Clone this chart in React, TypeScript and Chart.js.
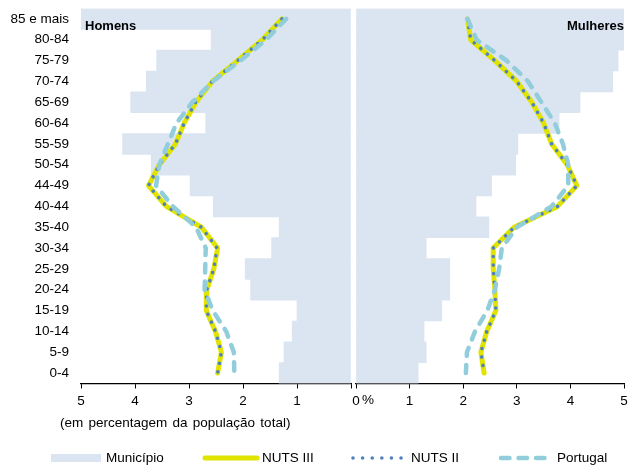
import React, { useEffect, useRef } from "react";
import { Chart, registerables } from "chart.js";

Chart.register(...registerables);

// Categories (top to bottom as drawn)
const ageGroups = [
  "85 e mais", "80-84", "75-79", "70-74", "65-69", "60-64", "55-59", "50-54", "44-49",
  "40-44", "35-40", "30-34", "25-29", "20-24", "15-19", "10-14", "5-9", "0-4",
];

// Homens (% of total population)
const menMunicipio = [5.5, 2.59, 3.6, 3.79, 4.08, 2.69, 4.23, 3.7, 2.98, 2.55, 1.33, 1.47, 1.96, 1.86, 1.0, 1.09, 1.24, 1.33];
const menNuts3 = [1.28, 1.64, 2.1, 2.57, 2.87, 3.09, 3.25, 3.55, 3.75, 3.42, 2.77, 2.47, 2.54, 2.67, 2.68, 2.51, 2.4, 2.47];
const menNuts2 = [1.28, 1.64, 2.1, 2.57, 2.88, 3.09, 3.25, 3.55, 3.75, 3.42, 2.77, 2.48, 2.54, 2.67, 2.68, 2.51, 2.4, 2.47];
const menPortugal = [1.2, 1.57, 2.05, 2.56, 2.94, 3.23, 3.39, 3.55, 3.61, 3.3, 2.87, 2.69, 2.7, 2.71, 2.56, 2.31, 2.17, 2.16];

// Mulheres (% of total population)
const womenMunicipio = [6.5, 5.2, 4.89, 4.79, 4.18, 3.79, 3.02, 2.98, 2.53, 2.24, 2.48, 1.31, 1.75, 1.75, 1.6, 1.27, 1.31, 1.16];
const womenNuts3 = [2.08, 2.14, 2.59, 3.0, 3.28, 3.5, 3.65, 3.94, 4.12, 3.76, 2.95, 2.56, 2.56, 2.59, 2.61, 2.44, 2.33, 2.39];
const womenNuts2 = [2.08, 2.14, 2.59, 3.0, 3.28, 3.5, 3.65, 3.94, 4.12, 3.76, 2.95, 2.56, 2.56, 2.59, 2.61, 2.44, 2.33, 2.39];
const womenPortugal = [2.08, 2.25, 2.81, 3.21, 3.46, 3.71, 3.86, 3.96, 3.96, 3.65, 3.0, 2.72, 2.67, 2.59, 2.45, 2.22, 2.07, 2.05];

const xTicks = [0, 1, 2, 3, 4, 5];
const seriesNames = ["Município", "NUTS III", "NUTS II", "Portugal"];
const panelNames = ["Homens", "Mulheres"];
const axisNote = "(em percentagem da população total)";

const FONT = '"Liberation Sans", Arial, sans-serif';
const C_BAR = "#dbe5f1";
const C_N3 = "#e0e400";
const C_N2 = "#4f81bd";
const C_PT = "#92cddc";

function makeDatasets(mun: number[], n3: number[], n2: number[], pt: number[]) {
  return [
    {
      type: "bar" as const,
      label: seriesNames[0],
      data: mun,
      backgroundColor: C_BAR,
      borderWidth: 0,
      barPercentage: 1,
      categoryPercentage: 1,
      order: 4,
    },
    {
      type: "line" as const,
      label: seriesNames[1],
      data: n3,
      borderColor: C_N3,
      borderWidth: 5,
      pointRadius: 0,
      tension: 0,
      borderCapStyle: "round" as const,
      borderJoinStyle: "round" as const,
      order: 3,
    },
    {
      type: "line" as const,
      label: seriesNames[2],
      data: n2,
      borderColor: C_N2,
      borderWidth: 3.6,
      borderDash: [0.01, 8.6],
      borderCapStyle: "round" as const,
      pointRadius: 0,
      tension: 0,
      order: 2,
    },
    {
      type: "line" as const,
      label: seriesNames[3],
      data: pt,
      borderColor: C_PT,
      borderWidth: 4.5,
      borderDash: [8.5, 9],
      borderCapStyle: "round" as const,
      pointRadius: 0,
      tension: 0,
      order: 1,
    },
  ];
}

function titlePlugin(text: string, side: "left" | "right") {
  return {
    id: "panelTitle",
    afterDraw(chart: any) {
      const { ctx, chartArea } = chart;
      ctx.save();
      ctx.font = `bold 13px ${FONT}`;
      ctx.fillStyle = "#000";
      ctx.textBaseline = "alphabetic";
      if (side === "left") {
        ctx.textAlign = "left";
        ctx.fillText(text, chartArea.left + 4, chartArea.top + 21);
      } else {
        ctx.textAlign = "right";
        ctx.fillText(text, chartArea.right, chartArea.top + 21.5);
      }
      ctx.restore();
    },
  };
}

const CANVAS_H = 420;
const AREA_TOP = 8.5;
const AREA_BOTTOM = 383.5;

function xScale(reverse: boolean, hideZero: boolean) {
  return {
    type: "linear" as const,
    min: 0,
    max: 5,
    reverse,
    afterBuildTicks(scale: any) {
      scale.ticks = xTicks.map((v) => ({ value: v }));
    },
    afterFit(scale: any) {
      scale.height = CANVAS_H - AREA_BOTTOM;
      scale.paddingLeft = 0;
      scale.paddingRight = 0;
    },
    ticks: {
      color: "#000",
      font: { family: FONT, size: 13.5 },
      padding: 5,
      maxRotation: 0,
      callback: (v: any) => (hideZero && v === 0 ? "" : String(v)),
    },
    grid: {
      display: true,
      drawOnChartArea: false,
      drawTicks: true,
      tickLength: 5,
      color: "#000",
      lineWidth: 1,
    },
    border: { display: true, color: "#000", width: 1.2 },
  };
}

function PyramidPanel(props: {
  side: "left" | "right";
  mun: number[];
  n3: number[];
  n2: number[];
  pt: number[];
  width: number;
  left: number;
}) {
  const ref = useRef<HTMLCanvasElement | null>(null);
  const { side, mun, n3, n2, pt, width, left } = props;
  useEffect(() => {
    if (!ref.current) return;
    const isLeft = side === "left";
    const chart = new Chart(ref.current, {
      type: "bar",
      data: {
        labels: ageGroups,
        datasets: makeDatasets(mun, n3, n2, pt) as any,
      },
      plugins: [titlePlugin(isLeft ? panelNames[0] : panelNames[1], side)],
      options: {
        indexAxis: "y",
        animation: false,
        responsive: false,
        maintainAspectRatio: false,
        events: [],
        layout: {
          padding: isLeft
            ? { top: AREA_TOP, right: 2, left: 0, bottom: 0 }
            : { top: AREA_TOP, right: 4, left: 12, bottom: 0 },
        },
        plugins: {
          legend: { display: false },
          tooltip: { enabled: false },
          title: { display: false },
        },
        scales: {
          x: xScale(isLeft, isLeft) as any,
          y: {
            type: "category",
            display: isLeft,
            offset: true,
            afterFit(scale: any) {
              if (isLeft) scale.width = 81;
              scale.paddingTop = 0;
              scale.paddingBottom = 0;
            },
            ticks: {
              color: "#000",
              font: { family: FONT, size: 13.5 },
              padding: 12,
              autoSkip: false,
            },
            grid: { display: false, drawTicks: false },
            border: { display: false },
          } as any,
        },
      } as any,
    });
    return () => chart.destroy();
  }, [side, mun, n3, n2, pt]);
  return (
    <canvas
      ref={ref}
      width={width}
      height={CANVAS_H}
      style={{ position: "absolute", left, top: 0, width, height: CANVAS_H }}
    />
  );
}

const textStyle: React.CSSProperties = {
  position: "absolute",
  fontFamily: FONT,
  fontSize: 13.5,
  lineHeight: "16px",
  color: "#000",
  whiteSpace: "nowrap",
};

export default function App() {
  return (
    <div
      style={{
        position: "absolute",
        left: 0,
        top: 0,
        width: 628,
        height: 466,
        background: "#fff",
        overflow: "hidden",
      }}
    >
      <PyramidPanel side="left" mun={menMunicipio} n3={menNuts3} n2={menNuts2} pt={menPortugal} width={353} left={0} />
      <PyramidPanel side="right" mun={womenMunicipio} n3={womenNuts3} n2={womenNuts2} pt={womenPortugal} width={284} left={344} />
      <span style={{ ...textStyle, left: 362, top: 392 }}>%</span>
      <span style={{ ...textStyle, left: 60, top: 415, wordSpacing: 1.5 }}>{axisNote}</span>

      <svg style={{ position: "absolute", left: 51, top: 454 }} width={50} height={8}>
        <rect x={0} y={0} width={50} height={8} fill={C_BAR} />
      </svg>
      <span style={{ ...textStyle, left: 106, top: 450 }}>{seriesNames[0]}</span>

      <svg style={{ position: "absolute", left: 202, top: 453 }} width={58} height={10}>
        <line x1={3} y1={5} x2={55} y2={5} stroke={C_N3} strokeWidth={5} strokeLinecap="round" />
      </svg>
      <span style={{ ...textStyle, left: 262, top: 450 }}>{seriesNames[1]}</span>

      <svg style={{ position: "absolute", left: 351, top: 453 }} width={54} height={10}>
        <line x1={2} y1={5} x2={51} y2={5} stroke={C_N2} strokeWidth={3.6} strokeLinecap="round" strokeDasharray="0.01 9.6" />
      </svg>
      <span style={{ ...textStyle, left: 411, top: 450 }}>{seriesNames[2]}</span>

      <svg style={{ position: "absolute", left: 497, top: 453 }} width={54} height={10}>
        <line x1={4} y1={5} x2={50} y2={5} stroke={C_PT} strokeWidth={4.5} strokeLinecap="round" strokeDasharray="8.5 9" />
      </svg>
      <span style={{ ...textStyle, left: 557, top: 450 }}>{seriesNames[3]}</span>
    </div>
  );
}
